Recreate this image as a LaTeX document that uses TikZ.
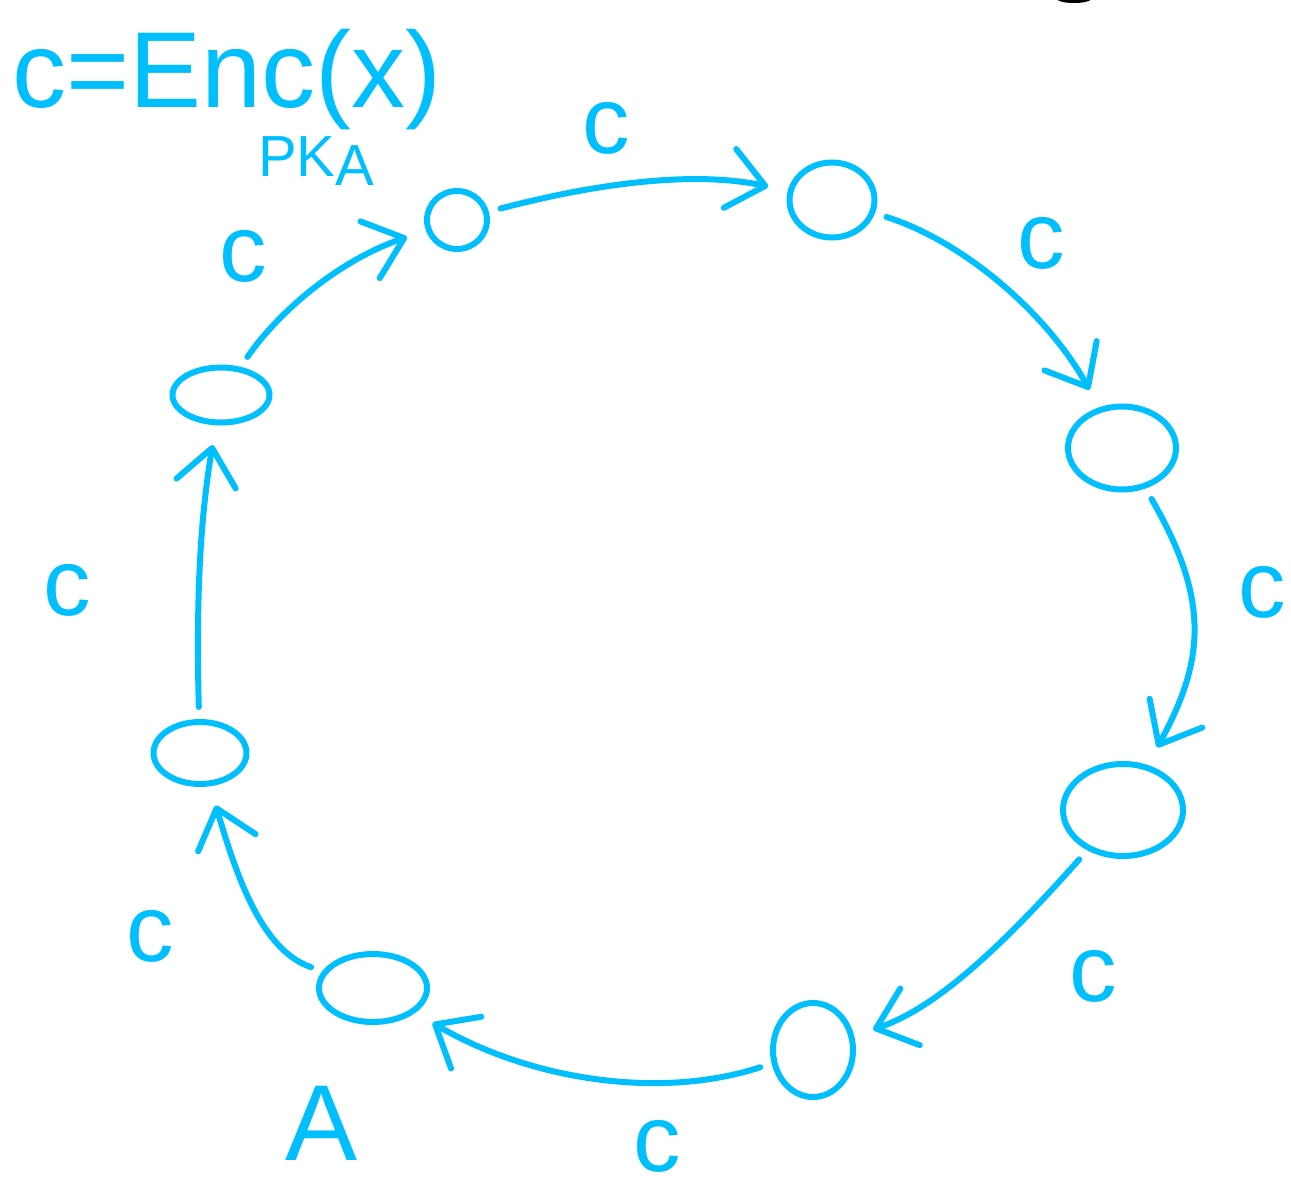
\documentclass[tikz,border=0pt]{standalone}
\usepackage{fontspec}
\setmainfont{Liberation Sans}
\usetikzlibrary{arrows.meta,shapes.geometric}
\definecolor{ink}{RGB}{0,191,255}
\begin{document}
\begin{tikzpicture}[x=1pt,y=-1pt,
  pen/.style={draw=ink,line width=6pt,line cap=round,line join=round},
  state/.style={pen,ellipse,inner sep=0pt},
  edge/.style={pen,-{Straight Barb[round,length=36pt,width=60pt]},shorten <=12pt,shorten >=20pt},
  lab/.style={text=ink,inner sep=0pt,font=\fontsize{95}{95}\selectfont},
  title/.style={text=ink,inner sep=0pt,font=\fontsize{108}{108}\selectfont},
  sub/.style={text=ink,inner sep=0pt,font=\fontsize{58}{58}\selectfont}
]
\useasboundingbox (0,0) rectangle (1291,1190);
\fill (1074,-1) ellipse (17pt and 4pt);

% nodes
\node[state,minimum width=60pt,minimum height=58pt] (n1) at (457,220) {};
\node[state,minimum width=85pt,minimum height=75pt] (n2) at (832,200) {};
\node[state,minimum width=108pt,minimum height=83pt] (n3) at (1122,448) {};
\node[state,minimum width=120pt,minimum height=92pt] (n4) at (1123,810) {};
\node[state,minimum width=80pt,minimum height=94pt] (n5) at (813,1050) {};
\node[state,minimum width=108pt,minimum height=68pt] (n6) at (373,988) {};
\node[state,minimum width=93pt,minimum height=62pt] (n7) at (200,753) {};
\node[state,minimum width=97pt,minimum height=55pt] (n8) at (221,395) {};

% edges
\draw[edge] (n1) .. controls (590,185) and (690,170) .. (n2);
\draw[edge] (n2) .. controls (960,240) and (1045,310) .. (n3);
\draw[edge] (n3) .. controls (1210,600) and (1205,660) .. (n4);
\draw[edge] (n4) .. controls (990,960) and (930,1010) .. (n5);
\draw[edge] (n5) .. controls (660,1100) and (530,1080) .. (n6);
\draw[edge] (n6) .. controls (260,950) and (235,870) .. (n7);
\draw[edge] (n7) .. controls (196,600) and (200,520) .. (n8);
\draw[edge] (n8) .. controls (280,310) and (340,260) .. (n1);

% labels
\node[lab] (c1) at (606,128) {c};
\node[lab] (c2) at (1041,243) {c};
\node[lab] (c3) at (1262,592) {c};
\node[lab] (c4) at (1093,976) {c};
\node[lab] (c5) at (657,1146) {c};
\node[lab] (c6) at (150,936) {c};
\node[lab] (c7) at (67,590) {c};
\node[lab] (c8) at (243,256) {c};

\node[title,anchor=base west] (eq) at (12,108) {c=Enc(x)};
\node[sub,anchor=base west] (pk) at (258,177) {PK\raisebox{-9pt}{A}};
\node[lab,anchor=base,font=\fontsize{108}{108}\selectfont] (a) at (322,1160) {A};
\end{tikzpicture}
\end{document}
